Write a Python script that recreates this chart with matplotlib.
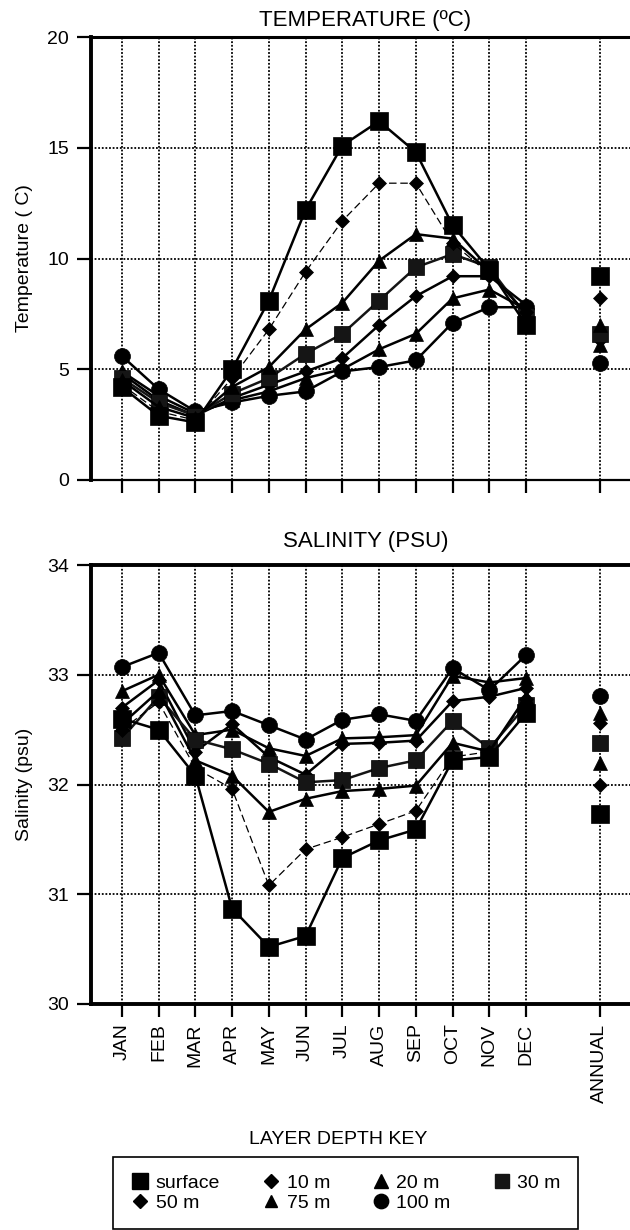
"""
Seasonal temperature and salinity cycle by layer depth.
Two stacked panels plus a shared depth key, saved to out.png.
"""

import matplotlib
matplotlib.use('Agg')
import matplotlib.pyplot as plt
from matplotlib.lines import Line2D

plt.rcParams.update({
    'font.family': ['Liberation Sans', 'DejaVu Sans'],
    'font.size': 14,
    'axes.edgecolor': 'black',
    'text.color': 'black',
    'xtick.color': 'black',
    'ytick.color': 'black',
})

# ---------------------------------------------------------------
# Data
# ---------------------------------------------------------------
months = ['JAN', 'FEB', 'MAR', 'APR', 'MAY', 'JUN',
          'JUL', 'AUG', 'SEP', 'OCT', 'NOV', 'DEC']
annual_label = 'ANNUAL'
depths = ['surface', '10 m', '20 m', '30 m', '50 m', '75 m', '100 m']

# temperature (C), JAN..DEC
temp_surface = [4.2, 2.9, 2.6, 5.0, 8.1, 12.2, 15.1, 16.2, 14.8, 11.5, 9.5, 7.0]
temp_10m = [4.3, 3.1, 2.7, 4.6, 6.8, 9.4, 11.7, 13.4, 13.4, 10.7, 9.3, 7.6]
temp_20m = [4.5, 3.3, 2.8, 4.2, 5.1, 6.8, 8.0, 9.9, 11.1, 10.9, 9.4, 7.5]
temp_30m = [4.6, 3.5, 2.9, 3.9, 4.6, 5.7, 6.6, 8.1, 9.6, 10.2, 9.6, 7.4]
temp_50m = [4.8, 3.6, 2.9, 3.7, 4.3, 4.9, 5.5, 7.0, 8.3, 9.2, 9.2, 7.9]
temp_75m = [4.9, 3.8, 3.0, 3.6, 4.0, 4.6, 5.0, 5.9, 6.6, 8.2, 8.6, 7.7]
temp_100m = [5.6, 4.1, 3.1, 3.5, 3.8, 4.0, 4.9, 5.1, 5.4, 7.1, 7.8, 7.8]
# annual means, same depth order
temp_annual = [9.2, 8.2, 7.0, 6.6, 6.3, 6.1, 5.3]

# salinity (psu), JAN..DEC
sal_surface = [32.60, 32.50, 32.08, 30.87, 30.52, 30.62, 31.33, 31.49, 31.59, 32.22, 32.25, 32.65]
sal_10m = [32.50, 32.75, 32.15, 31.96, 31.08, 31.41, 31.52, 31.64, 31.76, 32.25, 32.30, 32.78]
sal_20m = [32.55, 32.85, 32.22, 32.08, 31.75, 31.87, 31.94, 31.96, 31.99, 32.38, 32.30, 32.80]
sal_30m = [32.42, 32.80, 32.41, 32.32, 32.19, 32.02, 32.04, 32.15, 32.22, 32.58, 32.33, 32.72]
sal_50m = [32.70, 32.95, 32.30, 32.55, 32.25, 32.09, 32.37, 32.38, 32.40, 32.76, 32.80, 32.88]
sal_75m = [32.85, 33.00, 32.45, 32.50, 32.33, 32.26, 32.42, 32.43, 32.45, 32.99, 32.93, 32.97]
sal_100m = [33.07, 33.20, 32.63, 32.67, 32.54, 32.41, 32.59, 32.64, 32.58, 33.06, 32.86, 33.18]
sal_annual = [31.73, 32.00, 32.20, 32.38, 32.56, 32.65, 32.81]

temp_series = [temp_surface, temp_10m, temp_20m, temp_30m, temp_50m, temp_75m, temp_100m]
sal_series = [sal_surface, sal_10m, sal_20m, sal_30m, sal_50m, sal_75m, sal_100m]

# marker / line style per depth
estilos = {
    'surface': dict(marker='s', ms=12.5, color='black', lw=1.8, ls='-'),
    '10 m': dict(marker='D', ms=7.5, color='black', lw=0.9, ls=(0, (6, 3))),
    '20 m': dict(marker='^', ms=10.5, color='black', lw=1.8, ls='-'),
    '30 m': dict(marker='s', ms=11, color='#151515', lw=1.8, ls='-'),
    '50 m': dict(marker='D', ms=7.5, color='black', lw=1.8, ls='-'),
    '75 m': dict(marker='^', ms=10, color='black', lw=1.8, ls='-'),
    '100 m': dict(marker='o', ms=11.5, color='black', lw=1.8, ls='-'),
}

x_meses = list(range(1, 13))
x_anual = 14
DOTTED = (0, (1, 1))


def dibujar_panel(ax, series, anual, ylim, yticks, titulo, ylabel, title_pad):
    """One panel: monthly lines per depth plus detached annual markers."""
    # deepest layer first so the surface ends on top
    for nombre, valores, val_anual in reversed(list(zip(depths, series, anual))):
        st = estilos[nombre]
        ax.plot(x_meses, valores, marker=st['marker'], markersize=st['ms'],
                color=st['color'], linewidth=st['lw'], linestyle=st['ls'],
                markeredgewidth=0.5, markeredgecolor='black', zorder=3)
        ax.plot([x_anual], [val_anual], marker=st['marker'], markersize=st['ms'],
                color=st['color'], linestyle='none',
                markeredgewidth=0.5, markeredgecolor='black', zorder=3)

    ax.set_xlim(0.16, 15.1)
    ax.set_ylim(*ylim)
    ax.set_yticks(yticks)
    ax.set_xticks(x_meses + [x_anual])

    ax.grid(True, color='black', linestyle=DOTTED, linewidth=1.3)
    ax.tick_params(axis='y', direction='out', length=10, width=1.6, pad=6, labelsize=14)
    ax.tick_params(axis='x', direction='out', length=9, width=1.6, pad=5, labelsize=14)

    ax.spines['right'].set_visible(False)
    ax.spines['left'].set_linewidth(2.8)
    ax.set_title(titulo, fontsize=16, pad=title_pad)
    ax.set_ylabel(ylabel, fontsize=14, labelpad=10)


fig = plt.figure(figsize=(6.3, 12.3), dpi=100)

# axes placed in pixels of the 630x1230 canvas (right edge runs off the page)
ancho = (640 - 91) / 630
ax_t = fig.add_axes([91 / 630, 1 - 480 / 1230, ancho, 443 / 1230])
ax_s = fig.add_axes([91 / 630, 1 - 1004 / 1230, ancho, 439 / 1230])

dibujar_panel(ax_t, temp_series, temp_annual, (0, 20), [0, 5, 10, 15, 20],
              'TEMPERATURE (ºC)', 'Temperature ( C)', 8)
ax_t.tick_params(axis='x', labelbottom=False)
ax_t.spines['top'].set_linewidth(2.2)
ax_t.spines['bottom'].set_linewidth(1.6)
ax_t.spines['bottom'].set_linestyle(DOTTED)

dibujar_panel(ax_s, sal_series, sal_annual, (30, 34), [30, 31, 32, 33, 34],
              'SALINITY (PSU)', 'Salinity (psu)', 13)
ax_s.set_xticklabels(months + [annual_label], rotation=90)
ax_s.spines['top'].set_linewidth(2.8)
ax_s.spines['bottom'].set_linewidth(2.8)

# depth key below the panels
fig.text(338 / 630, 1 - 1139 / 1230, 'LAYER DEPTH KEY', ha='center', va='center',
         fontsize=14)
handles = {}
for nombre in depths:
    st = estilos[nombre]
    handles[nombre] = Line2D([], [], marker=st['marker'], markersize=st['ms'] * 0.9,
                             color=st['color'], linestyle='none', label=nombre)
orden = ['surface', '50 m', '10 m', '75 m', '20 m', '100 m', '30 m']
leg = fig.legend(handles=[handles[n] for n in orden], ncol=4, mode='expand',
                 loc='upper left',
                 bbox_to_anchor=(113 / 630, 1 - 1157 / 1230, 465 / 630, 0.0),
                 frameon=True, fancybox=False, edgecolor='black', framealpha=1,
                 fontsize=14, handlelength=1.0, handletextpad=0.3,
                 labelspacing=0.1, borderpad=0.9, borderaxespad=0)
leg.get_frame().set_linewidth(1.2)

fig.savefig('out.png', dpi=100, facecolor='white')
print('[OK] out.png')
